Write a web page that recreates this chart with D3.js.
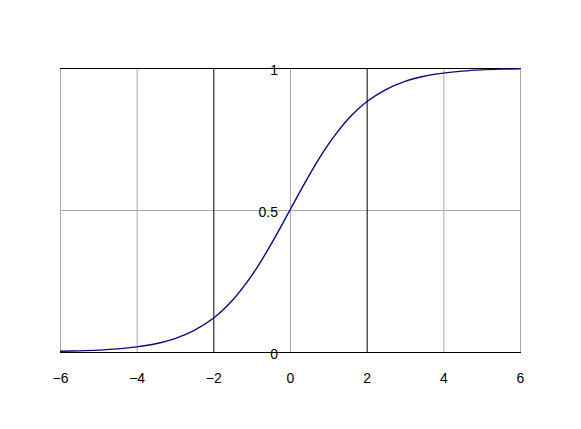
<!DOCTYPE html>
<html><head><meta charset="utf-8">
<script src="https://cdn.jsdelivr.net/npm/d3@7"></script>
<style>body{margin:0;background:#fff}svg{display:block}</style>
</head><body><svg id="c" width="581" height="429"></svg>
<script>
const xs = [-6,-5.5,-5,-4.5,-4,-3.5,-3,-2.5,-2,-1.75,-1.5,-1.25,-1,-0.75,-0.5,-0.25,0,0.25,0.5,0.75,1,1.25,1.5,1.75,2,2.5,3,3.5,4,4.5,5,5.5,6];
const ys = [0.0025,0.0041,0.0067,0.011,0.018,0.029,0.047,0.076,0.119,0.148,0.182,0.223,0.269,0.321,0.378,0.438,0.5,0.562,0.622,0.679,0.731,0.777,0.818,0.852,0.881,0.924,0.953,0.971,0.982,0.989,0.9933,0.9959,0.9975];
const xTicks = [-6,-4,-2,0,2,4,6];
const yTicks = [0,0.5,1];
const grayX = [-6,-4,0,4,6];
const blackX = [-2,2];

const svg = d3.select("#c");
const x = d3.scaleLinear().domain([-6,6]).range([60,520]);
const y = d3.scaleLinear().domain([0,1]).range([352,68]);

// gray grid
svg.selectAll(".gx").data(grayX).join("line")
  .attr("x1",d=>x(d)+0.5).attr("x2",d=>x(d)+0.5).attr("y1",y(1)).attr("y2",y(0))
  .attr("stroke","#aaa").attr("stroke-width",1);
svg.append("line").attr("x1",x(-6)).attr("x2",x(6)).attr("y1",y(0.5)+0.5).attr("y2",y(0.5)+0.5)
  .attr("stroke","#aaa").attr("stroke-width",1);
// black lines
svg.selectAll(".bx").data(blackX).join("line")
  .attr("x1",d=>x(d)+0.5).attr("x2",d=>x(d)+0.5).attr("y1",y(1)).attr("y2",y(0))
  .attr("stroke","#000").attr("stroke-width",1);
svg.selectAll(".by").data([0,1]).join("line")
  .attr("x1",x(-6)).attr("x2",x(6)+1).attr("y1",d=>y(d)+0.5).attr("y2",d=>y(d)+0.5)
  .attr("stroke","#000").attr("stroke-width",1);

// curve
const pts = xs.map((v,i)=>[v,ys[i]]);
svg.append("path").datum(pts)
  .attr("d",d3.line().x(d=>x(d[0])).y(d=>y(d[1])).curve(d3.curveCatmullRom.alpha(0.5)))
  .attr("fill","none").attr("stroke","#0a0a78").attr("stroke-width",1.4);

// x labels
svg.selectAll(".xl").data(xTicks).join("text")
  .attr("x",d=>x(d)+0.5).attr("y",382.5).attr("text-anchor","middle")
  .attr("font-family","Liberation Sans, Arial, sans-serif").attr("font-size",14)
  .text(d=>d<0?"\u2212"+Math.abs(d):String(d));
// y labels
svg.selectAll(".yl").data(yTicks).join("text")
  .attr("x",x(0)-12).attr("y",d=>y(d)+7).attr("text-anchor","end")
  .attr("font-family","Liberation Sans, Arial, sans-serif").attr("font-size",14)
  .text(d=>String(d));
</script></body></html>
